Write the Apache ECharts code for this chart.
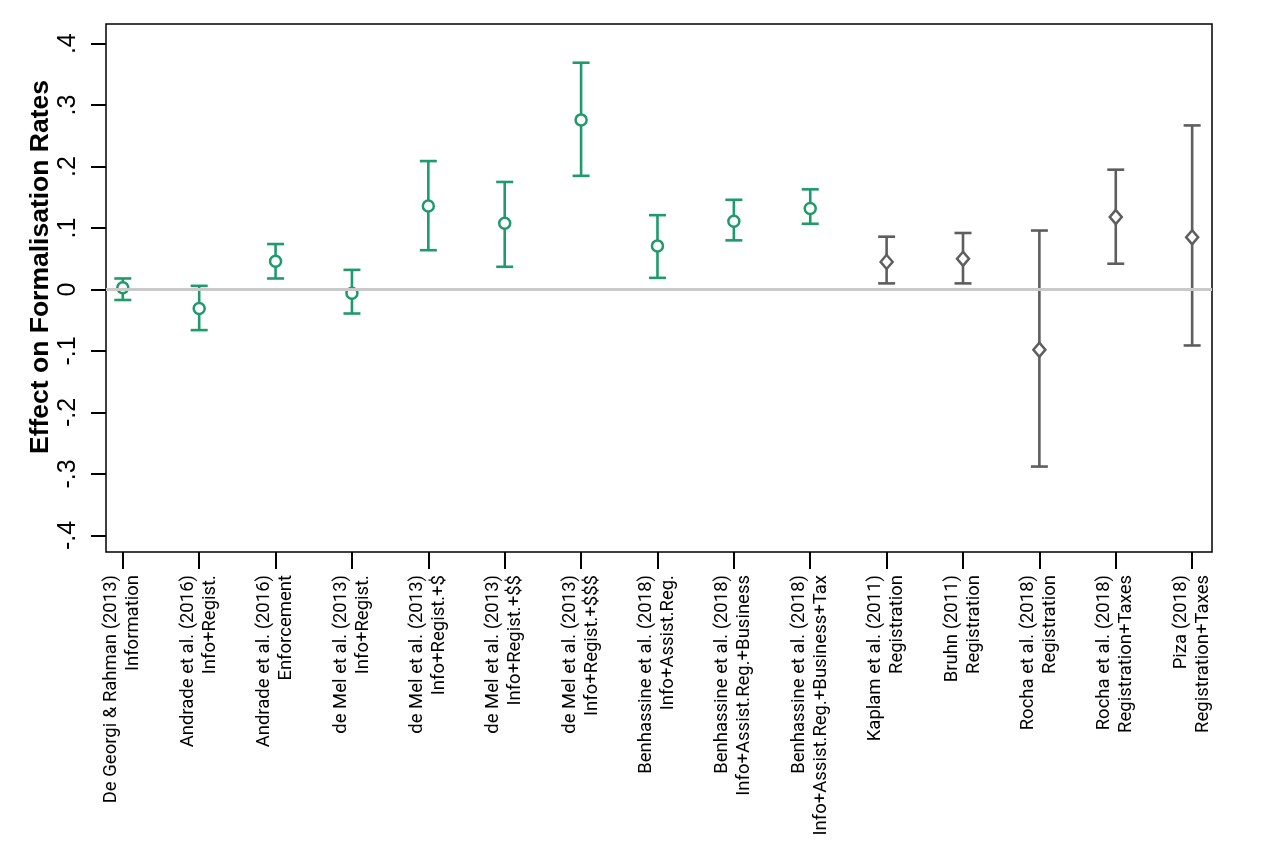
<!DOCTYPE html>
<html>
<head>
<meta charset="utf-8">
<script src="https://cdn.jsdelivr.net/npm/echarts@6/dist/echarts.min.js"></script>
<style>
  html, body { margin: 0; padding: 0; background: #fff; }
  #chart { width: 1263px; height: 846px; }
</style>
</head>
<body>
<div id="chart"></div>
<script>
"use strict";

// studies (first label line) and treatments (second label line)
var studies = ['De Georgi & Rahman (2013)', 'Andrade et al. (2016)', 'Andrade et al. (2016)', 'de Mel et al. (2013)',
    'de Mel et al. (2013)', 'de Mel et al. (2013)', 'de Mel et al. (2013)', 'Benhassine et al. (2018)',
    'Benhassine et al. (2018)', 'Benhassine et al. (2018)', 'Kaplam et al. (2011)', 'Bruhn (2011)',
    'Rocha et al. (2018)', 'Rocha et al. (2018)', 'Piza (2018)'];
var treatments = ['Information', 'Info+Regist.', 'Enforcement', 'Info+Regist.', 'Info+Regist.+$', 'Info+Regist.+$$',
    'Info+Regist.+$$$', 'Info+Assist.Reg.', 'Info+Assist.Reg.+Business', 'Info+Assist.Reg.+Business+Tax',
    'Registration', 'Registration', 'Registration', 'Registration+Taxes', 'Registration+Taxes'];
// 'info' studies drawn green with circles, 'reg' grey with diamonds
var groups = ['info', 'info', 'info', 'info', 'info', 'info', 'info', 'info', 'info', 'info',
    'reg', 'reg', 'reg', 'reg', 'reg'];
var estimates = [0.003, -0.031, 0.046, -0.006, 0.136, 0.108, 0.276, 0.071, 0.111, 0.132, 0.045, 0.050, -0.098, 0.118, 0.085];
var lower = [-0.017, -0.066, 0.018, -0.039, 0.064, 0.037, 0.185, 0.019, 0.080, 0.107, 0.010, 0.010, -0.288, 0.042, -0.091];
var upper = [0.018, 0.006, 0.074, 0.032, 0.209, 0.175, 0.369, 0.121, 0.146, 0.163, 0.086, 0.092, 0.096, 0.195, 0.267];
var yTicks = [-0.4, -0.3, -0.2, -0.1, 0, 0.1, 0.2, 0.3, 0.4];

var GREEN = '#1f9a6b';
var GREY = '#5e5e5e';

var positions = studies.map(function (s, i) { return i + 1; });

function pick(group) {
    var pts = [], bars = [];
    for (var i = 0; i < estimates.length; i++) {
        if (groups[i] !== group) continue;
        pts.push([positions[i], estimates[i]]);
        bars.push([positions[i], lower[i], upper[i]]);
    }
    return { pts: pts, bars: bars };
}
var info = pick('info');
var reg = pick('reg');

// stata style tick labels: .4, 0, -.1
function fmtTick(v) {
    var r = Math.round(v * 10) / 10;
    if (r === 0) return '0';
    return (r < 0 ? '-' : '') + String(Math.abs(r)).replace(/^0/, '');
}

function errorBar(color) {
    return function (params, api) {
        var x = api.value(0);
        var lo = api.coord([x, api.value(1)]);
        var hi = api.coord([x, api.value(2)]);
        var half = 8.5;
        var style = { stroke: color, lineWidth: 2.6 };
        return {
            type: 'group',
            children: [
                { type: 'line', shape: { x1: lo[0], y1: lo[1], x2: hi[0], y2: hi[1] }, style: style },
                { type: 'line', shape: { x1: lo[0] - half, y1: lo[1], x2: lo[0] + half, y2: lo[1] }, style: style },
                { type: 'line', shape: { x1: hi[0] - half, y1: hi[1], x2: hi[0] + half, y2: hi[1] }, style: style }
            ]
        };
    };
}

var dom = document.getElementById('chart');
var myChart = echarts.init(dom, null, { renderer: 'canvas' });

var option = {
    animation: false,
    backgroundColor: '#fff',
    textStyle: { fontFamily: 'Roboto, Liberation Sans, Arial, sans-serif', color: '#000' },
    grid: {
        left: 106, right: 51, top: 24, bottom: 294,
        show: true, borderColor: '#000', borderWidth: 1.5, backgroundColor: 'transparent'
    },
    xAxis: {
        type: 'value',
        min: 0.78,
        max: 15.26,
        splitLine: { show: false },
        axisLine: { show: false, onZero: false },
        axisTick: {
            show: true, length: 17, customValues: positions,
            lineStyle: { color: '#000', width: 2 }
        },
        axisLabel: {
            customValues: positions,
            rotate: 90,
            margin: 23,
            fontFamily: 'Roboto',
            fontSize: 18.5,
            lineHeight: 22,
            color: '#000',
            formatter: function (v) {
                var i = Math.round(v) - 1;
                return studies[i] + '\n' + treatments[i];
            }
        }
    },
    yAxis: {
        type: 'value',
        min: -0.427,
        max: 0.432,
        splitLine: { show: false },
        axisLine: { show: false, onZero: false },
        axisTick: {
            show: true, length: 15, customValues: yTicks,
            lineStyle: { color: '#000', width: 2 }
        },
        axisLabel: {
            customValues: yTicks,
            rotate: 90,
            margin: 25,
            fontFamily: 'Liberation Sans',
            fontSize: 25,
            color: '#000',
            formatter: fmtTick
        }
    },
    graphic: [{
        type: 'text',
        x: 41,
        y: 267,
        rotation: Math.PI / 2,
        style: {
            text: 'Effect on Formalisation Rates',
            fontFamily: 'Liberation Sans, Arial, sans-serif',
            fontWeight: 'bold',
            fontSize: 26.5,
            fill: '#000',
            align: 'center',
            verticalAlign: 'middle'
        }
    }],
    series: [
        {
            type: 'line',
            data: [],
            silent: true,
            z: 1,
            markLine: {
                silent: true,
                symbol: 'none',
                label: { show: false },
                lineStyle: { color: '#c9c9c9', width: 3, type: 'solid' },
                data: [{ yAxis: 0 }]
            }
        },
        {
            type: 'custom',
            z: 2,
            renderItem: errorBar(GREEN),
            encode: { x: 0, y: [1, 2] },
            data: info.bars
        },
        {
            type: 'custom',
            z: 2,
            renderItem: errorBar(GREY),
            encode: { x: 0, y: [1, 2] },
            data: reg.bars
        },
        {
            type: 'scatter',
            z: 3,
            symbol: 'circle',
            symbolSize: 11,
            itemStyle: { color: '#fff', borderColor: GREEN, borderWidth: 2.5, opacity: 1 },
            data: info.pts
        },
        {
            type: 'scatter',
            z: 3,
            symbol: 'diamond',
            symbolSize: [12, 14],
            itemStyle: { color: '#fff', borderColor: GREY, borderWidth: 2.5, opacity: 1 },
            data: reg.pts
        }
    ]
};

myChart.setOption(option);
</script>
</body>
</html>
